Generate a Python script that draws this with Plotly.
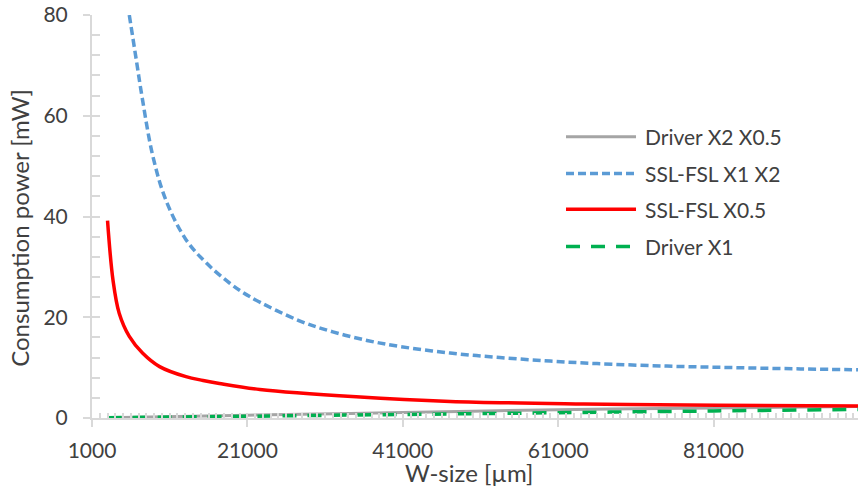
import plotly.graph_objects as go

# ---------------- data ----------------
blue_x = [5800, 6700, 7500, 8800, 10500, 13100, 15700, 18700, 21300, 27700, 32000,
          36400, 40600, 47100, 53500, 60000, 66000, 75000, 83600, 92200, 100000]
blue_y = [80, 71.1, 63.2, 52.2, 43.3, 35.4, 30.8, 26.8, 24.1, 19.3, 17.1,
          15.4, 14.2, 12.9, 12.0, 11.3, 10.8, 10.3, 10.0, 9.75, 9.55]

red_x = [3000, 3700, 4500, 5800, 7500, 9700, 13100, 15300, 17400, 22600, 35000,
         47100, 64300, 81500, 100000]
red_y = [39.2, 27.4, 20.8, 16.2, 12.9, 10.2, 8.2, 7.45, 6.85, 5.65, 4.2,
         3.3, 2.8, 2.55, 2.4]

green_x = [3000, 21000, 41000, 61000, 81000, 100000]
green_y = [0.05, 0.35, 0.7, 1.05, 1.4, 1.7]

gray_x = [3000, 21000, 41000, 61000, 81000, 100000]
gray_y = [0.05, 0.55, 1.1, 1.65, 2.0, 2.3]

series_names = ["Driver X2 X0.5", "SSL-FSL X1 X2", "SSL-FSL X0.5", "Driver X1"]
x_ticks = [1000, 21000, 41000, 61000, 81000]
y_ticks = [0, 20, 40, 60, 80]

# ---------------- styling ----------------
FONT = "Lato"
TXT = "#404040"
AX = "#D9D9D9"
colors = ["#A5A5A5", "#5B9BD5", "#FF0000", "#00B050"]
dashes = ["solid", "8px,4px", "solid", "14px,11px"]
widths = [3, 3.5, 3.5, 3.5]

fig = go.Figure()
data = [(gray_x, gray_y), (blue_x, blue_y), (red_x, red_y), (green_x, green_y)]
for (xs, ys), name, c, d, w in zip(data, series_names, colors, dashes, widths):
    fig.add_trace(go.Scatter(x=xs, y=ys, name=name, mode="lines",
                             line=dict(color=c, dash=d, width=w, shape="spline", smoothing=1.0),
                             showlegend=False))

# dummy trace for overlay (minor/inside tick) axes
fig.add_trace(go.Scatter(x=[None], y=[None], xaxis="x2", yaxis="y2",
                         showlegend=False, hoverinfo="skip"))

xr = [1000, 99600]
yr = [0, 80]

fig.update_layout(
    width=858, height=491, autosize=False,
    margin=dict(l=92, r=0, t=15, b=73),
    paper_bgcolor="white", plot_bgcolor="white",
    font=dict(family=FONT, size=21, color=TXT),
    xaxis=dict(range=xr, tickvals=x_ticks, ticktext=[str(v) for v in x_ticks],
               ticks="outside", ticklen=7, tickwidth=2, tickcolor=AX,
               showline=True, linecolor=AX, linewidth=2,
               showgrid=False, zeroline=False, ticklabelstandoff=6,
               tickfont=dict(family=FONT, size=21, color=TXT)),
    yaxis=dict(range=yr, tickvals=y_ticks,
               ticks="outside", ticklen=7, tickwidth=2, tickcolor=AX,
               showline=True, linecolor=AX, linewidth=2,
               showgrid=False, zeroline=False, ticklabelstandoff=11,
               tickfont=dict(family=FONT, size=21, color=TXT)),
    xaxis2=dict(range=xr, overlaying="x", anchor="y2", tick0=1000, dtick=1000,
                ticks="inside", ticklen=5, tickwidth=2, tickcolor=AX,
                showticklabels=False, showline=False, showgrid=False, zeroline=False),
    yaxis2=dict(range=yr, overlaying="y", anchor="x2", tick0=0, dtick=4,
                ticks="inside", ticklen=8, tickwidth=2, tickcolor=AX,
                showticklabels=False, showline=False, showgrid=False, zeroline=False),
)

# axis titles
fig.add_annotation(text="W-size [µm]", xref="paper", yref="paper",
                   x=0.492, y=-0.136, xanchor="center", yanchor="middle",
                   showarrow=False, font=dict(family=FONT, size=24, color=TXT))
fig.add_annotation(text="Consumption power [mW]", xref="paper", yref="paper",
                   x=-0.094, y=0.472, xanchor="center", yanchor="middle", textangle=-90,
                   showarrow=False, font=dict(family=FONT, size=24, color=TXT))

# custom legend (long line samples as in the reference)
leg_rows = [0.698, 0.607, 0.518, 0.4255]
for name, c, d, w, yy in zip(series_names, colors, dashes, widths, leg_rows):
    fig.add_shape(type="line", xref="paper", yref="paper",
                  x0=0.6188, x1=0.7102, y0=yy, y1=yy,
                  line=dict(color=c, dash=d, width=w))
    fig.add_annotation(text=name, xref="paper", yref="paper", x=0.7193, y=yy,
                       xanchor="left", yanchor="middle", showarrow=False,
                       font=dict(family=FONT, size=21, color=TXT))

fig.write_html("out.html")
